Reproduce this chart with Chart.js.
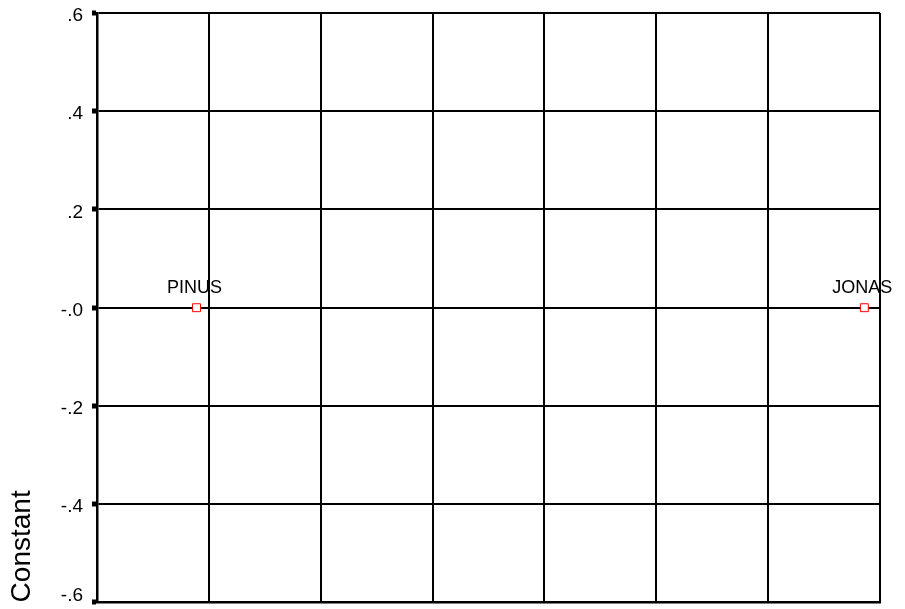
<!DOCTYPE html>
<html>
<head>
<meta charset="utf-8">
<script src="https://cdn.jsdelivr.net/npm/chart.js@4"></script>
<style>
  html, body { margin: 0; padding: 0; background: #fff; }
  #wrap { width: 905px; height: 609px; }
</style>
</head>
<body>
<div id="wrap"><canvas id="c" width="905" height="609"></canvas></div>
<script>
const categories = ['PINUS', 'JONAS'];
const xValues = [0.89, 6.86];
const yValues = [0.0, 0.0];
const yTickLabels = ['-.6', '-.4', '-.2', '-.0', '.2', '.4', '.6'];
const axisTitle = 'Constant';

const FONT = "'Liberation Sans', Arial, sans-serif";
const noPad = () => ({ left: 0, top: 0, right: 0, bottom: 0 });

const pointLabels = {
  id: 'pointLabels',
  afterDatasetsDraw(chart) {
    const ctx = chart.ctx;
    const meta = chart.getDatasetMeta(0);
    ctx.save();
    ctx.font = '18px ' + FONT;
    ctx.fillStyle = '#000';
    ctx.textAlign = 'center';
    ctx.textBaseline = 'alphabetic';
    meta.data.forEach((pt, i) => {
      ctx.fillText(categories[i], pt.x - 2, pt.y - 15);
    });
    ctx.restore();
  }
};

new Chart(document.getElementById('c'), {
  type: 'scatter',
  data: {
    datasets: [{
      label: 'points',
      data: xValues.map((x, i) => ({ x: x, y: yValues[i] })),
      pointStyle: 'rect',
      pointRadius: 5.6,
      pointHoverRadius: 5.6,
      borderColor: '#ff0000',
      backgroundColor: '#ffffff',
      borderWidth: 1
    }]
  },
  options: {
    responsive: false,
    animation: false,
    events: [],
    layout: { padding: { top: 13, right: 25, bottom: 5, left: 0 } },
    plugins: {
      legend: { display: false },
      tooltip: { enabled: false }
    },
    scales: {
      x: {
        type: 'linear',
        min: 0, max: 7,
        ticks: { display: false, stepSize: 1 },
        grid: { color: '#000', lineWidth: 2, drawTicks: false },
        border: { display: true, color: '#000', width: 2.5 },
        afterFit(scale) {
          scale.height = 0;
          scale.paddingLeft = 0; scale.paddingRight = 0;
          scale.paddingTop = 0; scale.paddingBottom = 0;
          scale.getPadding = noPad;
        }
      },
      y: {
        type: 'linear',
        min: -0.6, max: 0.6,
        ticks: {
          stepSize: 0.2,
          padding: 9,
          labelOffset: 3,
          color: '#000',
          font: { family: FONT, size: 19, lineHeight: 1 },
          callback: (v, i) => i === 0 ? [yTickLabels[i], ''] : yTickLabels[i]
        },
        grid: { color: '#000', lineWidth: 2, drawTicks: true, tickLength: 5, tickWidth: 5, tickColor: '#000' },
        border: { display: true, color: '#000', width: 2.5 },
        title: {
          display: true,
          text: axisTitle,
          align: 'start',
          color: '#000',
          font: { family: FONT, size: 28 },
          padding: { top: 5, bottom: 0 }
        },
        afterFit(scale) {
          scale.width = 97;
          scale.paddingTop = 0; scale.paddingBottom = 0;
          scale.paddingLeft = 0; scale.paddingRight = 0;
          scale.getPadding = noPad;
        }
      }
    }
  },
  plugins: [pointLabels]
});
</script>
</body>
</html>
